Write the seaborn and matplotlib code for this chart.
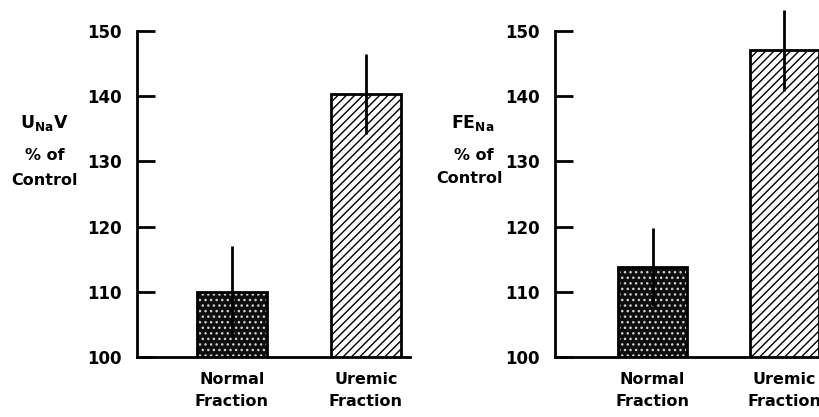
"""
Two-panel bar chart: sodium excretion (U_Na V) and fractional excretion (FE_Na)
as % of control for the normal and uremic fractions.
"""

import matplotlib
matplotlib.use("Agg")
import matplotlib.pyplot as plt
import seaborn as sns

# Data
categories = ["Normal\nFraction", "Uremic\nFraction"]
una_mean = [110.0, 140.3]
una_err = [7.0, 6.1]
fena_mean = [113.8, 147.0]
fena_err = [6.0, 6.2]
yticks = [100, 110, 120, 130, 140, 150]

sns.set_style("ticks")
plt.rcParams["font.family"] = ["DejaVu Sans"]
plt.rcParams["font.weight"] = "bold"
plt.rcParams["text.color"] = "black"
plt.rcParams["xtick.color"] = "black"
plt.rcParams["ytick.color"] = "black"
plt.rcParams["axes.edgecolor"] = "black"
plt.rcParams["hatch.linewidth"] = 1.0


def draw_panel(ax, means, errs, xlim):
    # filled / hatched bars
    sns.barplot(x=categories, y=means, ax=ax, width=0.52, color="white",
                linewidth=0, errorbar=None)
    stipple, stripes = ax.patches[0], ax.patches[1]
    stipple.set_facecolor("#0e0e0e")
    stipple.set_edgecolor("#d0d0d0")
    stipple.set_hatch("...")
    stripes.set_facecolor("white")
    stripes.set_edgecolor("black")
    stripes.set_hatch("////")

    # black outlines on top
    sns.barplot(x=categories, y=means, ax=ax, width=0.52, color="black",
                fill=False, linewidth=2, errorbar=None)

    ax.errorbar(range(len(means)), means, yerr=errs, fmt="none",
                ecolor="black", elinewidth=2, capsize=0, clip_on=False)

    ax.set_ylim(100, 150)
    ax.set_xlim(*xlim)
    ax.set_yticks(yticks)
    ax.set_yticklabels([str(t) for t in yticks], fontsize=12, fontweight="bold")
    ax.tick_params(axis="y", direction="in", length=13, width=2, pad=11,
                   colors="black")
    ax.tick_params(axis="x", length=0, pad=11, colors="black")
    for t in ax.get_xticklabels():
        t.set_fontsize(11.5)
        t.set_fontweight("bold")
        t.set_linespacing(1.55)
    sns.despine(ax=ax)
    for side in ("left", "bottom"):
        ax.spines[side].set_linewidth(2)
        ax.spines[side].set_color("black")
    ax.set_xlabel("")
    ax.set_ylabel("")


fig = plt.figure(figsize=(8.2, 4.17), dpi=100)

ax1 = fig.add_axes([0.167, 0.144, 0.333, 0.782])
draw_panel(ax1, una_mean, una_err, (-0.71, 1.33))

ax2 = fig.add_axes([0.677, 0.144, 0.323, 0.782])
draw_panel(ax2, fena_mean, fena_err, (-0.74, 1.27))

# stacked y labels
fig.text(0.054, 0.705, r"U$_{\mathbf{Na}}$V", ha="center", va="center",
         fontsize=12.5, fontweight="bold")
fig.text(0.055, 0.628, "% of", ha="center", va="center", fontsize=11.5,
         fontweight="bold")
fig.text(0.054, 0.568, "Control", ha="center", va="center", fontsize=11.5,
         fontweight="bold")

fig.text(0.576, 0.705, r"FE$_{\mathbf{Na}}$", ha="center", va="center",
         fontsize=12.5, fontweight="bold")
fig.text(0.578, 0.628, "% of", ha="center", va="center", fontsize=11.5,
         fontweight="bold")
fig.text(0.573, 0.572, "Control", ha="center", va="center", fontsize=11.5,
         fontweight="bold")

fig.savefig("out.png", dpi=100)
